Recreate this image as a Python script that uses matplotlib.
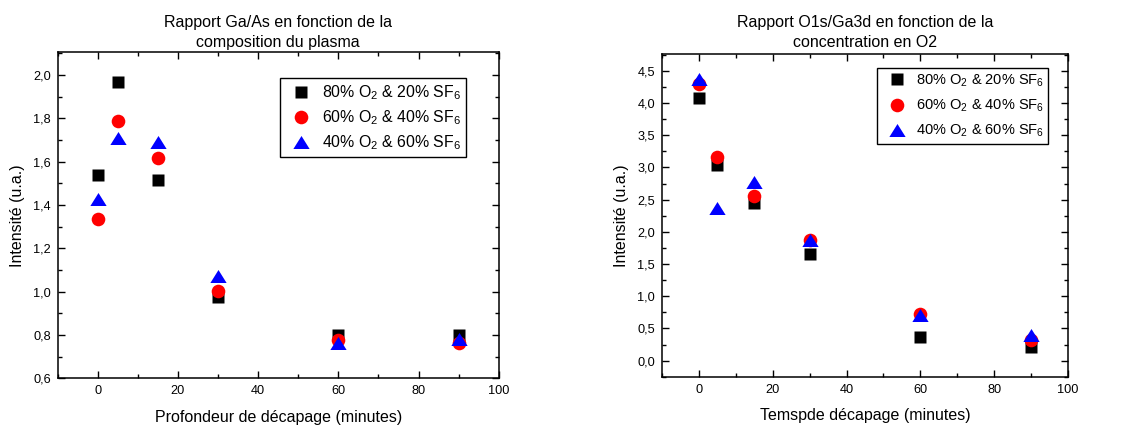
import matplotlib
matplotlib.use("Agg")
import matplotlib.pyplot as plt
import matplotlib.ticker as ticker

plt.rcParams["font.family"] = ["Liberation Sans", "DejaVu Sans"]
plt.rcParams["mathtext.fontset"] = "custom"
plt.rcParams["mathtext.rm"] = "Liberation Sans"
plt.rcParams["mathtext.it"] = "Liberation Sans"

# ---------------------------------------------------------------------------
# Data
# ---------------------------------------------------------------------------
TIME = [0, 5, 15, 30, 60, 90]
LABELS = [r"80% O$_2$ & 20% SF$_6$",
          r"60% O$_2$ & 40% SF$_6$",
          r"40% O$_2$ & 60% SF$_6$"]

# left: Ga/As ratio
GAAS_80 = [1.54, 1.97, 1.515, 0.975, 0.80, 0.80]
GAAS_60 = [1.335, 1.79, 1.617, 1.003, 0.777, 0.765]
GAAS_40 = [1.427, 1.711, 1.69, 1.072, 0.765, 0.78]

# right: O1s/Ga3d ratio
O1S_80 = [4.085, 3.045, 2.45, 1.65, 0.36, 0.21]
O1S_60 = [4.29, 3.16, 2.56, 1.87, 0.72, 0.32]
O1S_40 = [4.37, 2.37, 2.77, 1.88, 0.71, 0.40]

XTICKS = [0, 20, 40, 60, 80, 100]
LEFT_YTICKS = [0.6, 0.8, 1.0, 1.2, 1.4, 1.6, 1.8, 2.0]
RIGHT_YTICKS = [0.0, 0.5, 1.0, 1.5, 2.0, 2.5, 3.0, 3.5, 4.0, 4.5]

# Origin-like triangle: a bit wider than tall
TRI = [(-1, -0.8), (1, -0.8), (0, 0.8), (-1, -0.8)]
STYLES = [dict(marker="s", color="black", ms=9.3),
          dict(marker="o", color="red", ms=9.8),
          dict(marker=TRI, color="blue", ms=11.7)]

comma = ticker.FuncFormatter(lambda v, p: f"{v:.1f}".replace(".", ","))

fig = plt.figure(figsize=(11.25, 4.25), dpi=100, facecolor="white")
ax_l = fig.add_axes([0.0513, 0.110, 0.392, 0.767])
ax_r = fig.add_axes([0.5884, 0.1136, 0.3609, 0.759])


def style_axes(ax, yticks, yminor):
    ax.set_xlim(-10, 100)
    ax.set_xticks(XTICKS)
    ax.set_yticks(yticks)
    ax.xaxis.set_minor_locator(ticker.MultipleLocator(10))
    ax.yaxis.set_minor_locator(ticker.MultipleLocator(yminor))
    ax.yaxis.set_major_formatter(comma)
    ax.tick_params(which="both", direction="in", top=True, right=True,
                   width=1.0, labelsize=9.2, pad=5)
    ax.tick_params(which="major", length=5)
    ax.tick_params(which="minor", length=3)
    for sp in ax.spines.values():
        sp.set_linewidth(1.1)
    ax.set_ylabel("Intensité (u.a.)", fontsize=11.5, labelpad=6)


def add_legend(ax, anchor, fs, lspace):
    leg = ax.legend(loc="upper right", bbox_to_anchor=anchor, fontsize=fs,
                    frameon=True, fancybox=False, edgecolor="black",
                    framealpha=1, borderaxespad=0, borderpad=0.3,
                    handlelength=2.1, handletextpad=0.25, labelspacing=lspace)
    leg.get_frame().set_linewidth(1.0)


for ys, lab, st in zip([GAAS_80, GAAS_60, GAAS_40], LABELS, STYLES):
    ax_l.plot(TIME, ys, ls="none", label=lab, mec="none", **st)
style_axes(ax_l, LEFT_YTICKS, 0.1)
ax_l.set_ylim(0.6, 2.105)
ax_l.set_xlabel("Profondeur de décapage (minutes)", fontsize=11.5, labelpad=9)
ax_l.set_title("Rapport Ga/As en fonction de la\ncomposition du plasma",
               fontsize=11.5, pad=4, linespacing=1.4)
add_legend(ax_l, (0.9256, 0.920), 11.4, 0.4)

for ys, lab, st in zip([O1S_80, O1S_60, O1S_40], LABELS, STYLES):
    ax_r.plot(TIME, ys, ls="none", label=lab, mec="none", **st)
style_axes(ax_r, RIGHT_YTICKS, 0.25)
ax_r.set_ylim(-0.25, 4.76)
ax_r.set_xlabel("Temspde décapage (minutes)", fontsize=11.5, labelpad=9)
ax_r.set_title("Rapport O1s/Ga3d en fonction de la\nconcentration en O2",
               fontsize=11.5, pad=5, linespacing=1.4)
add_legend(ax_r, (0.9515, 0.9566), 10.5, 0.6)

fig.savefig("out.png", dpi=100, facecolor="white")
plt.close(fig)
